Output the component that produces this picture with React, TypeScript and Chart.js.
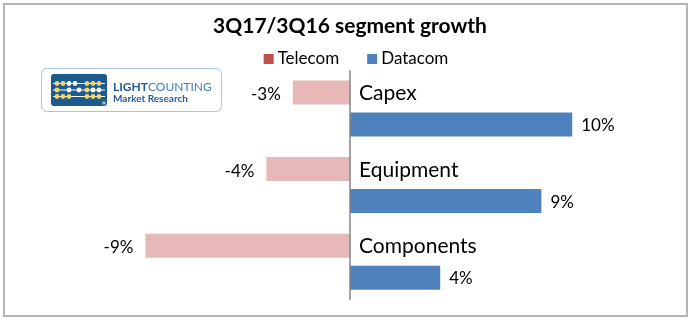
import React, { useEffect, useRef } from "react";
import { Chart, registerables } from "chart.js";

Chart.register(...registerables);

const categories = ["Capex", "Equipment", "Components"];
const seriesNames = ["Telecom", "Datacom"];
const telecomValues = [-2.6, -3.8, -9.3];
const datacomValues = [10.1, 8.7, 4.1];
const barColors = ["#e6b9b8", "#4f81bd"];
const legendColors = ["#c0504d", "#4f81bd"];
const titleText = "3Q17/3Q16 segment growth";

const FONT = "Lato, 'Noto Sans', sans-serif";

function roundRect(ctx: CanvasRenderingContext2D, x: number, y: number, w: number, h: number, r: number) {
  ctx.beginPath();
  ctx.moveTo(x + r, y);
  ctx.lineTo(x + w - r, y);
  ctx.quadraticCurveTo(x + w, y, x + w, y + r);
  ctx.lineTo(x + w, y + h - r);
  ctx.quadraticCurveTo(x + w, y + h, x + w - r, y + h);
  ctx.lineTo(x + r, y + h);
  ctx.quadraticCurveTo(x, y + h, x, y + h - r);
  ctx.lineTo(x, y + r);
  ctx.quadraticCurveTo(x, y, x + r, y);
  ctx.closePath();
}

const decorPlugin = {
  id: "decor",
  beforeDraw(chart: any) {
    const ctx: CanvasRenderingContext2D = chart.ctx;
    ctx.save();
    ctx.fillStyle = "#ffffff";
    ctx.fillRect(0, 0, chart.width, chart.height);
    ctx.strokeStyle = "#b4b4b4";
    ctx.lineWidth = 2;
    ctx.strokeRect(4, 4, 683, 312);

    // logo
    roundRect(ctx, 41.5, 68.5, 180, 43, 6);
    ctx.fillStyle = "#ffffff";
    ctx.fill();
    ctx.strokeStyle = "#a9c4e0";
    ctx.lineWidth = 1;
    ctx.stroke();
    roundRect(ctx, 51, 74, 56, 32, 3);
    ctx.fillStyle = "#1d5a8e";
    ctx.fill();
    const rows = [83.5, 90, 96.5];
    ctx.strokeStyle = "#ffffff";
    ctx.lineWidth = 1;
    rows.forEach((ry) => {
      ctx.beginPath();
      ctx.moveTo(53, ry);
      ctx.lineTo(105, ry);
      ctx.stroke();
    });
    const beads: [number, number, string][] = [
      [57, 0, "Y"], [63, 0, "Y"], [69, 0, "W"], [75, 0, "W"], [87, 0, "Y"], [93, 0, "Y"], [99, 0, "Y"],
      [57, 1, "Y"], [69, 1, "W"], [79, 1, "W"], [87, 1, "Y"], [93, 1, "W"], [99, 1, "W"],
      [57, 2, "Y"], [63, 2, "Y"], [69, 2, "Y"], [87, 2, "Y"], [93, 2, "Y"], [99, 2, "Y"],
    ];
    beads.forEach(([bx, r, c]) => {
      ctx.beginPath();
      ctx.arc(bx, rows[r], 2.4, 0, Math.PI * 2);
      ctx.fillStyle = c === "Y" ? "#f3d36b" : "#ffffff";
      ctx.fill();
    });
    ctx.beginPath();
    ctx.arc(104, 103, 1.8, 0, Math.PI * 2);
    ctx.fillStyle = "#9fb6cc";
    ctx.fill();

    ctx.textBaseline = "alphabetic";
    ctx.textAlign = "left";
    ctx.font = `bold 12px ${FONT}`;
    ctx.fillStyle = "#1f5b96";
    ctx.fillText("LIGHT", 113, 91);
    const lw = ctx.measureText("LIGHT").width;
    ctx.font = `12px ${FONT}`;
    ctx.fillStyle = "#3f7fc0";
    ctx.fillText("COUNTING", 113 + lw, 91);
    ctx.font = `bold 10px ${FONT}`;
    ctx.fillStyle = "#2a5b9a";
    ctx.fillText("Market Research", 113, 102);
    ctx.restore();
  },
  afterDatasetsDraw(chart: any) {
    const ctx: CanvasRenderingContext2D = chart.ctx;
    const xScale = chart.scales.x;
    const area = chart.chartArea;
    const zeroX = xScale.getPixelForValue(0);
    ctx.save();
    // vertical axis line at zero
    ctx.strokeStyle = "#868686";
    ctx.lineWidth = 1.5;
    ctx.beginPath();
    ctx.moveTo(zeroX, area.top);
    ctx.lineTo(zeroX, area.bottom);
    ctx.stroke();

    // value labels
    ctx.fillStyle = "#000000";
    ctx.font = `17px ${FONT}`;
    ctx.textBaseline = "middle";
    chart.data.datasets.forEach((ds: any, di: number) => {
      const meta = chart.getDatasetMeta(di);
      meta.data.forEach((bar: any, i: number) => {
        const v = ds.data[i];
        const txt = `${Math.round(v)}%`;
        if (v < 0) {
          ctx.textAlign = "right";
          ctx.fillText(txt, bar.x - 12, bar.y + 2);
        } else {
          ctx.textAlign = "left";
          ctx.fillText(txt, bar.x + 9, bar.y + 1);
        }
      });
    });

    // category labels beside axis
    const meta0 = chart.getDatasetMeta(0);
    ctx.font = `21px ${FONT}`;
    ctx.textAlign = "left";
    chart.data.labels.forEach((lab: string, i: number) => {
      const bar = meta0.data[i];
      ctx.fillText(lab, zeroX + 9, bar.y + 1);
    });

    // legend
    ctx.font = `17px ${FONT}`;
    const box = 10;
    const gapText = 4;
    const gapItem = 28;
    const widths = chart.data.datasets.map((ds: any) => box + gapText + ctx.measureText(ds.label).width);
    const total = widths.reduce((a: number, b: number) => a + b, 0) + gapItem * (widths.length - 1);
    let x = 356 - total / 2;
    const ly = 59;
    chart.data.datasets.forEach((ds: any, di: number) => {
      ctx.fillStyle = ds.legendColor;
      ctx.fillRect(x, ly - 5, box, box);
      ctx.fillStyle = "#000000";
      ctx.textAlign = "left";
      ctx.fillText(ds.label, x + box + gapText, ly);
      x += widths[di] + gapItem;
    });
    ctx.restore();
  },
};

export default function App() {
  const ref = useRef<HTMLCanvasElement | null>(null);
  useEffect(() => {
    if (!ref.current) return;
    const chart = new Chart(ref.current, {
      type: "bar",
      data: {
        labels: categories,
        datasets: [
          {
            label: seriesNames[0],
            data: telecomValues,
            backgroundColor: barColors[0],
            legendColor: legendColors[0],
            categoryPercentage: 0.835,
            barPercentage: 0.75,
          } as any,
          {
            label: seriesNames[1],
            data: datacomValues,
            backgroundColor: barColors[1],
            legendColor: legendColors[1],
            categoryPercentage: 0.835,
            barPercentage: 0.75,
          } as any,
        ],
      },
      options: {
        indexAxis: "y",
        animation: false,
        responsive: false,
        devicePixelRatio: 1,
        layout: { padding: { top: 5, left: 86, right: 78, bottom: 21 } },
        scales: {
          x: { display: false, min: -12, max: 12 },
          y: { display: false },
        },
        plugins: {
          legend: { display: false },
          tooltip: { enabled: false },
          title: {
            display: true,
            text: titleText,
            color: "#000000",
            font: { family: FONT, size: 21, weight: "bold" },
            padding: { top: 9, bottom: 31 },
          },
        },
      },
      plugins: [decorPlugin],
    });
    return () => chart.destroy();
  }, []);
  return (
    <div style={{ position: "absolute", left: 0, top: 0, width: 692, height: 321 }}>
      <canvas ref={ref} width={692} height={321} />
    </div>
  );
}
